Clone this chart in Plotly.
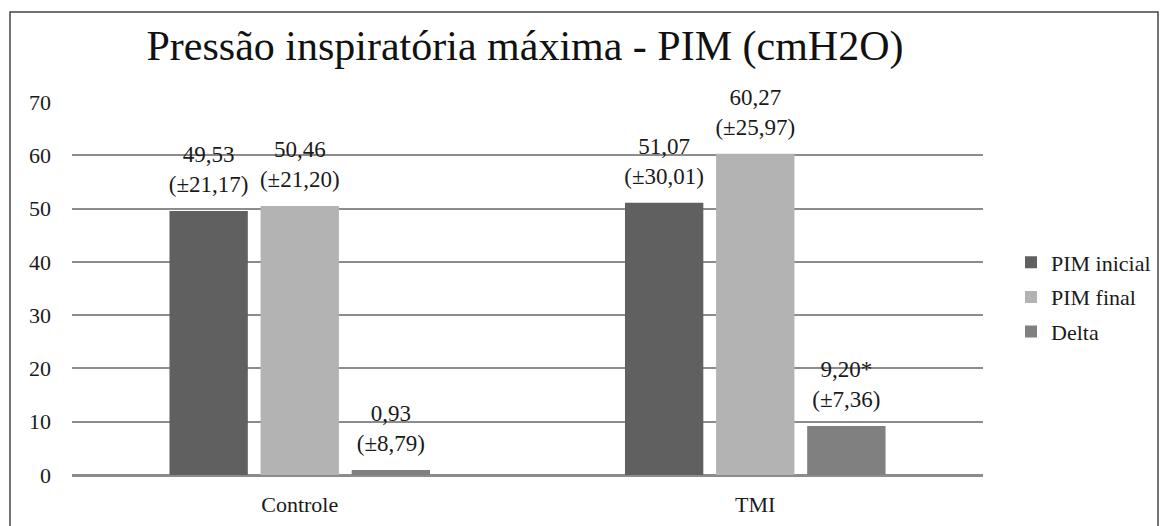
import plotly.graph_objects as go

categories = ["Controle", "TMI"]
series_names = ["PIM inicial", "PIM final", "Delta"]
pim_inicial = [49.53, 51.07]
pim_final = [50.46, 60.27]
delta = [0.93, 9.20]
labels_inicial = ["49,53<br>(±21,17)", "51,07<br>(±30,01)"]
labels_final = ["50,46<br>(±21,20)", "60,27<br>(±25,97)"]
labels_delta = ["0,93<br>(±8,79)", "9,20*<br>(±7,36)"]
colors = ["#606060", "#b3b3b3", "#808080"]
y_ticks = [0, 10, 20, 30, 40, 50, 60, 70]

fam = "Liberation Serif"
txt_color = "#1a1a1a"

fig = go.Figure()
all_vals = [pim_inicial, pim_final, delta]
all_labs = [labels_inicial, labels_final, labels_delta]
for name, vals, col in zip(series_names, all_vals, colors):
    fig.add_trace(go.Bar(
        name=name, x=categories, y=vals, marker_color=col, marker_line_width=0,
        legendgroup=name,
    ))
# value labels, grouped alongside the bars
for name, vals, labs in zip(series_names, all_vals, all_labs):
    fig.add_trace(go.Scatter(
        x=categories, y=vals, text=labs, mode="markers+text", textposition="top center",
        marker=dict(size=20, opacity=0), showlegend=False, hoverinfo="skip",
        cliponaxis=False, legendgroup=name,
        textfont=dict(family=fam, size=23, color=txt_color),
    ))

L, R, T, B = 64, 193, 94, 59
pw = 1168 - L - R
ph = 526 - T - B

fig.update_layout(
    width=1168, height=526,
    paper_bgcolor="white", plot_bgcolor="white",
    margin=dict(l=L, r=R, t=T, b=B, autoexpand=False),
    barmode="group", bargap=0.4, bargroupgap=0.14,
    scattermode="group", scattergap=0.4,
    title=dict(text="Pressão inspiratória máxima - PIM (cmH2O)", x=517 / 1168, xanchor="center",
               y=1 - 37 / 526, yanchor="middle",
               font=dict(family=fam, size=42, color="#111111")),
    legend=dict(x=(1003 - L) / pw, y=1 - (289 - T) / ph, xanchor="left", yanchor="middle",
                font=dict(family=fam, size=22, color=txt_color),
                itemwidth=30, tracegroupgap=3, bgcolor="rgba(0,0,0,0)"),
    showlegend=True,
)
fig.update_yaxes(range=[0, 70], tickvals=y_ticks, showgrid=True, gridcolor="#8c8c8c",
                 gridwidth=2, zeroline=True, zerolinecolor="#8c8c8c", zerolinewidth=2,
                 showline=False, ticks="", ticklabelstandoff=20,
                 tickfont=dict(family=fam, size=22, color=txt_color))
fig.update_xaxes(showline=True, linecolor="#8c8c8c", linewidth=2, ticks="",
                 ticklabelstandoff=9,
                 tickfont=dict(family=fam, size=22, color=txt_color))

fig.add_shape(type="rect", xref="paper", yref="paper",
              x0=(2 - L) / pw, x1=(1150 - L) / pw,
              y0=-0.3, y1=1 + (T - 4) / ph,
              line=dict(color="#444444", width=1.5), fillcolor="rgba(0,0,0,0)", layer="below")

fig.write_html("out.html")
